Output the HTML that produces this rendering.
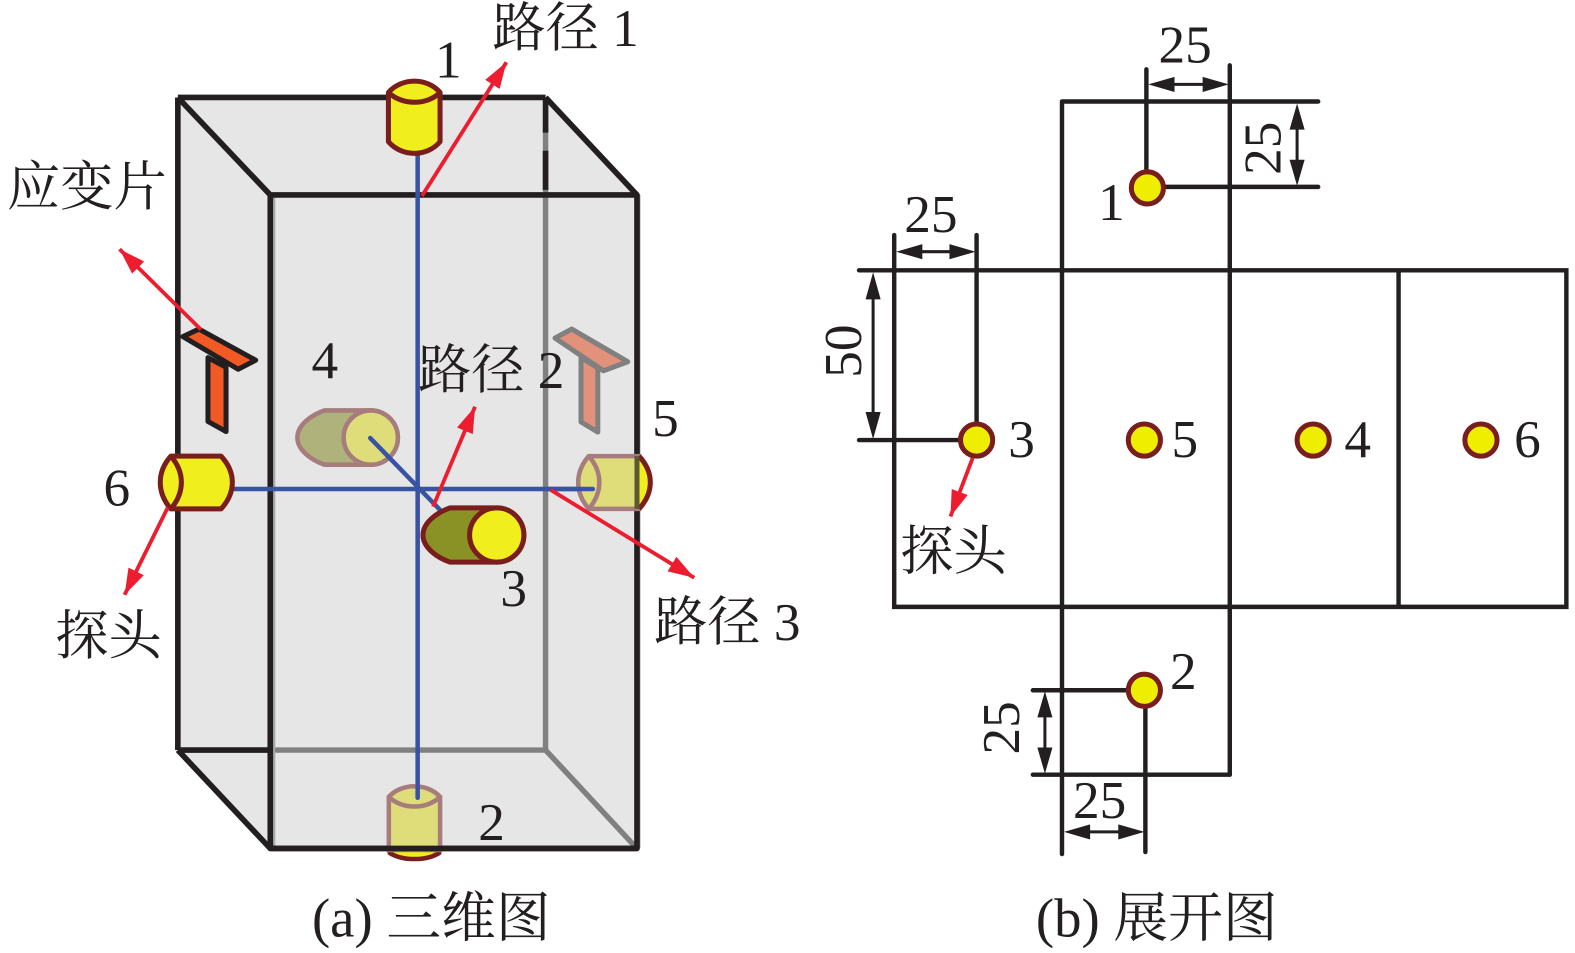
<!DOCTYPE html>
<html><head><meta charset="utf-8"><style>
html,body{margin:0;padding:0;background:#fff}
svg{display:block}
text{font-family:"Liberation Serif","Noto Serif CJK SC",serif;fill:#231f20;font-size:53px}
text.c{font-size:54.5px}
</style></head><body>
<svg width="1575" height="953" viewBox="0 0 1567.6 948.5" xmlns="http://www.w3.org/2000/svg">
<defs>
<marker id="ra" markerUnits="userSpaceOnUse" markerWidth="28" markerHeight="20" refX="26" refY="9" orient="auto"><path d="M0 0.5L26 9L0 17.5Z" fill="#ed1c2e"/></marker>
</defs>
<!-- box -->
<polygon points="177,97 543,97 634,194 634,844.5 269,844.5 177,746.5" fill="#e6e6e6"/>
<g fill="none" stroke="#808080" stroke-width="5.4">
<path d="M269 746.5H543M543 128V746.5L634 844.5"/>
<path d="M271.5 194V844M635 194V844" stroke="#a8a8a8" stroke-width="3" transform="translate(1,0)"/>
</g>
<g fill="none" stroke="#231f20" stroke-width="5.6" stroke-linejoin="round" stroke-linecap="butt">
<path d="M177 97H543M177 97V746.5M177 97L269 194M543 97L634 194M177 746.5L269 844.5M177 746.5H269"/>
<path d="M543 97V132M543 150V189" />
<path d="M269 194H634V844.5H269Z"/>
</g>
<!-- strain gauges -->
<g stroke="#231f20" stroke-width="5" stroke-linejoin="round" fill="#f15a24">
<polygon points="182,335 198,327.5 254.5,358.5 237,367.5"/>
<polygon points="207,356 225,365.5 225,429.5 207,419.5"/>
</g>
<g stroke="#808080" stroke-width="5" stroke-linejoin="round" fill="#e2917a">
<polygon points="552.4,336.5 569,327.5 624.8,360 600.6,369"/>
<polygon points="578.3,356 595,366 595,430 578.3,420"/>
</g>
<!-- probe 4 -->
<path d="M323 408.5H369A27 27 0 0 1 369 462.5H323C310 458 296 448 296 435.5C296 423 310 413 323 408.5Z" fill="#b0b27c" stroke="#a67c7c" stroke-width="4.5"/>
<circle cx="369" cy="435.5" r="27" fill="#dfdd7a" stroke="#a67c7c" stroke-width="4.5"/>
<!-- blue -->
<g stroke="#3953a4" stroke-width="4.5" fill="none" stroke-linecap="round">
<path d="M415.7 150V790M232 486.7H590M368.5 436L438 507.5"/>
</g>
<!-- probe 1 -->
<path d="M386.6 92C400 77 425 77 438 92V141C425 156.5 400 156.5 386.6 141Z" fill="#f0ee1c" stroke="#791d1d" stroke-width="5" stroke-linejoin="round"/>
<path d="M386.6 92C400 105 425 105 438 92" fill="none" stroke="#791d1d" stroke-width="5"/>
<!-- probe 2 -->
<path d="M388 849C401 857 424 857 437 849L437 842H388Z" fill="#f0ee1c" stroke="#791d1d" stroke-width="4.5"/>
<path d="M387 793C400 779 425 779 438 793V846H387Z" fill="#dfdd7a" stroke="#a67c7c" stroke-width="4.5"/>
<path d="M387 793C400 806 425 806 438 793" fill="none" stroke="#a67c7c" stroke-width="4.5"/>
<path d="M415.7 782V794" stroke="#3953a4" stroke-width="4.5" stroke-linecap="round"/>
<path d="M269 844.5H634" stroke="#231f20" stroke-width="5.6"/>
<!-- probe 6 -->
<path d="M170 454H220C235 470 235 490 220 506.5H170C156 490 156 470 170 454Z" fill="#f0ee1c" stroke="#791d1d" stroke-width="5" stroke-linejoin="round"/>
<path d="M170 454C184 470 184 490 170 506.5" fill="none" stroke="#791d1d" stroke-width="5"/>
<!-- probe 5 -->
<path d="M586 454H636V506.5H586C572 490 572 470 586 454Z" fill="#dfdd7a" stroke="#a67c7c" stroke-width="4.5"/>
<path d="M586 454C600 470 600 490 586 506.5" fill="none" stroke="#a67c7c" stroke-width="4.5"/>
<path d="M636 454C651 470 651 490 636 506.5Z" fill="#f0ee1c"/>
<path d="M636 454C651 470 651 490 636 506.5" fill="none" stroke="#791d1d" stroke-width="5"/>
<path d="M634 454V506.5" stroke="#5a5a30" stroke-width="5"/>
<path d="M590 486.7H545" stroke="#3953a4" stroke-width="4.5" stroke-linecap="round"/>
<!-- probe 3 -->
<path d="M448 505.5H494.4A27 27 0 0 1 494.4 559.5H448C435 555 421 545 421 532.5C421 520 435 510 448 505.5Z" fill="#8a9226" stroke="#791d1d" stroke-width="5"/>
<circle cx="494.4" cy="532.5" r="27" fill="#f0ee1c" stroke="#791d1d" stroke-width="5"/>
<!-- red arrows -->
<g stroke="#ed1c2e" stroke-width="3.8" fill="none">
<path d="M420 195L504 62" marker-end="url(#ra)"/>
<path d="M200 328L119 248" marker-end="url(#ra)"/>
<path d="M431 504.3L472.8 404.8" marker-end="url(#ra)"/>
<path d="M548 487.5L691 575" marker-end="url(#ra)"/>
<path d="M167 505L124 592" marker-end="url(#ra)"/>
<path d="M968 456L946 514" marker-end="url(#ra)"/>
</g>
<!-- labels left -->
<text x="490" y="46">路径 1</text>
<text x="433" y="77">1</text>
<text x="7" y="204">应变片</text>
<text x="310" y="376">4</text>
<text x="416" y="386">路径 2</text>
<text x="649" y="434">5</text>
<text x="103" y="503">6</text>
<text x="498" y="603">3</text>
<text x="651" y="637">路径 3</text>
<text x="55" y="651">探头</text>
<text x="476" y="836">2</text>
<text class="c" x="310.5" y="932">(a) 三维图</text>
<text class="c" x="1031" y="932">(b) 展开图</text>
<!-- right diagram -->
<g fill="none" stroke="#231f20" stroke-width="4.4" stroke-linecap="round">
<path d="M1057 101H1312M1057 101V850M1224 65V771M1141 69V170M1158 186H1312"/>
<path d="M855 269H1559V604H890V234M972 234V422M855 438H955M1392 269V604"/>
<path d="M1028 687H1123M1028 771H1224M1140 703V848"/>
</g>
<g fill="#f0ee00" stroke="#791d1d" stroke-width="5">
<circle cx="1142" cy="187" r="16"/>
<circle cx="972" cy="438" r="16"/>
<circle cx="1139" cy="438" r="16"/>
<circle cx="1307" cy="438" r="16"/>
<circle cx="1474" cy="438" r="16"/>
<circle cx="1139" cy="687" r="16"/>
</g>
<!-- dimensions -->
<g stroke="#231f20" stroke-width="3" fill="#231f20">
<path d="M1160 84H1205M1291 122V166M869 290V417M910 250.5H952M1040 707V751M1077 828H1120"/>
</g>
<g fill="#231f20">
<path d="M1143 84L1169 76.5V91.5ZM1223 84L1197 76.5V91.5Z"/>
<path d="M1291 103L1283.5 129H1298.5ZM1291 185L1283.5 159H1298.5Z"/>
<path d="M869 271L861.5 298H876.5ZM869 437L861.5 410H876.5Z"/>
<path d="M892 250.5L918 243V258ZM971 250.5L945 243V258Z"/>
<path d="M1040 688L1032.5 714H1047.5ZM1040 770L1032.5 744H1047.5Z"/>
<path d="M1059 828L1085 820.5V835.5ZM1139 828L1113 820.5V835.5Z"/>
</g>
<text x="1153" y="62">25</text>
<text x="900" y="231">25</text>
<text x="1068" y="814">25</text>
<text transform="translate(1274.5,174) rotate(-90)">25</text>
<text transform="translate(857,376) rotate(-90)">50</text>
<text transform="translate(1014,751) rotate(-90)">25</text>
<text x="1093" y="219">1</text>
<text x="1003.5" y="455">3</text>
<text x="1166" y="455">5</text>
<text x="1338" y="455">4</text>
<text x="1507" y="455">6</text>
<text x="1164.5" y="686">2</text>
<text x="896" y="567">探头</text>
</svg>
</body></html>
